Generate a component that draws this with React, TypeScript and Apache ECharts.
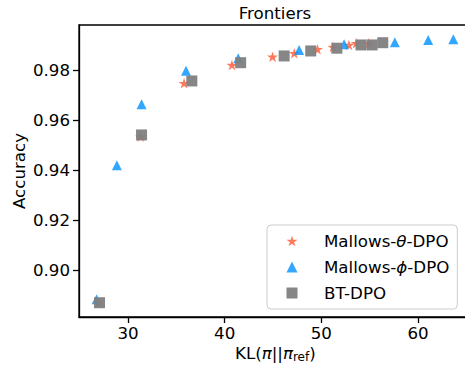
import React, { useEffect, useRef } from 'react';
import * as echarts from 'echarts';

// Data
const seriesNames = ['Mallows-θ-DPO', 'Mallows-ϕ-DPO', 'BT-DPO'];

const thetaKL = [26.95, 31.3, 35.8, 40.75, 44.95, 47.2, 49.6, 51.2, 52.85, 53.6, 54.9];
const thetaAcc = [0.8871, 0.9537, 0.975, 0.9823, 0.9856, 0.987, 0.9886, 0.9895, 0.9903, 0.991, 0.991];

const phiKL = [26.75, 28.85, 31.4, 36.0, 41.4, 47.7, 52.35, 57.6, 61.05, 63.65];
const phiAcc = [0.8886, 0.9422, 0.9666, 0.98, 0.985, 0.9883, 0.9906, 0.9914, 0.9923, 0.9926];

const btKL = [27.05, 31.4, 36.6, 41.65, 46.15, 48.9, 51.6, 54.1, 55.25, 56.35];
const btAcc = [0.8872, 0.9543, 0.9759, 0.9832, 0.9859, 0.9879, 0.989, 0.9903, 0.9903, 0.9912];

const xTicks = [30, 40, 50, 60];
const yTicks = [0.9, 0.92, 0.94, 0.96, 0.98];

const FONT = 'DejaVu Sans';
const FS = 16.67;
const STAR =
  'path://M0,-100L22.45,-30.9L95.1,-30.9L36.3,11.8L58.8,80.9L0,38.2L-58.8,80.9L-36.3,11.8L-95.1,-30.9L-22.45,-30.9Z';

const pairs = (xs: number[], ys: number[]) => xs.map((x, i) => [x, ys[i]]);

export default function App() {
  const ref = useRef<HTMLDivElement>(null);
  useEffect(() => {
    document.body.style.margin = '0';
    const chart = echarts.init(ref.current as HTMLDivElement, null, { renderer: 'svg' });
    const txt = { fontFamily: FONT, fontSize: FS, color: '#000' };
    chart.setOption({
      animation: false,
      backgroundColor: '#fff',
      title: {
        text: 'Frontiers',
        left: 275,
        top: 3.5,
        textAlign: 'center',
        padding: 0,
        textStyle: { ...txt, fontWeight: 'normal', lineHeight: 20 },
      },
      grid: {
        left: 79,
        top: 25,
        width: 392.7,
        height: 292,
        show: true,
        borderColor: '#000',
        borderWidth: 1.3,
        backgroundColor: 'transparent',
        containLabel: false,
        outerBoundsMode: 'none',
      },
      legend: {
        orient: 'vertical',
        left: 267,
        top: 225,
        padding: [6, 8, 6, 19.5],
        itemGap: 6,
        itemWidth: 11,
        itemHeight: 11,
        backgroundColor: 'rgba(255,255,255,0.8)',
        borderColor: '#cccccc',
        borderWidth: 1,
        borderRadius: 4,
        selectedMode: false,
        data: [
          { name: seriesNames[0], icon: STAR },
          { name: seriesNames[1], icon: 'triangle' },
          { name: seriesNames[2], icon: 'rect' },
        ],
        formatter: (name: string) => {
          const m = name.match(/^(.*-)([θϕ])(-.*)$/);
          if (m) return `{g| }{n|${m[1]}}{i|${m[2]}}{n|${m[3]}}`;
          return `{g| }{n|${name}}`;
        },
        textStyle: {
          ...txt,
          lineHeight: 20,
          rich: {
            g: { width: 21.5, lineHeight: 20, fontSize: FS },
            n: { ...txt, lineHeight: 20 },
            i: { ...txt, lineHeight: 20, fontStyle: 'italic' },
          },
        },
      },
      xAxis: {
        type: 'value',
        min: 24.93,
        max: 65.55,
        name: '{n|KL(}{i|π}{n|||}{i|π}{s|ref}{n|)}',
        nameLocation: 'middle',
        nameGap: 26,
        nameMoveOverlap: false,
        nameTextStyle: {
          ...txt,
          lineHeight: 20,
          rich: {
            n: { ...txt, lineHeight: 20 },
            i: { ...txt, lineHeight: 20, fontStyle: 'italic' },
            s: { ...txt, fontSize: 12, lineHeight: 8, verticalAlign: 'bottom' },
          },
        },
        splitLine: { show: false },
        axisLine: { show: true, onZero: false, lineStyle: { color: '#000', width: 1.3 } },
        axisTick: { show: true, length: 6, lineStyle: { color: '#000', width: 1.3 }, customValues: xTicks },
        axisLabel: {
          ...txt,
          margin: 9,
          lineHeight: 14,
          customValues: xTicks,
          formatter: (v: number) => String(v),
        },
      },
      yAxis: {
        type: 'value',
        min: 0.88148,
        max: 0.99828,
        name: 'Accuracy',
        nameLocation: 'middle',
        nameGap: 49.5,
        nameMoveOverlap: false,
        nameTextStyle: { ...txt, lineHeight: 20 },
        splitLine: { show: false },
        axisLine: { show: true, onZero: false, lineStyle: { color: '#000', width: 1.3 } },
        axisTick: { show: true, length: 6, lineStyle: { color: '#000', width: 1.3 }, customValues: yTicks },
        axisLabel: {
          ...txt,
          margin: 9,
          customValues: yTicks,
          formatter: (v: number) => v.toFixed(2),
        },
      },
      series: [
        {
          name: seriesNames[0],
          type: 'scatter',
          symbol: STAR,
          symbolSize: [11, 10.5],
          itemStyle: { color: '#FF5733' },
          data: pairs(thetaKL, thetaAcc),
        },
        {
          name: seriesNames[1],
          type: 'scatter',
          symbol: 'triangle',
          symbolSize: 10,
          itemStyle: { color: '#0091FF' },
          data: pairs(phiKL, phiAcc),
        },
        {
          name: seriesNames[2],
          type: 'scatter',
          symbol: 'rect',
          symbolSize: 11,
          itemStyle: { color: '#808080', opacity: 0.95 },
          data: pairs(btKL, btAcc),
        },
      ],
    });
    return () => chart.dispose();
  }, []);
  return (
    <div
      ref={ref}
      style={{ position: 'absolute', left: 0, top: 0, width: 465, height: 368 }}
    />
  );
}
